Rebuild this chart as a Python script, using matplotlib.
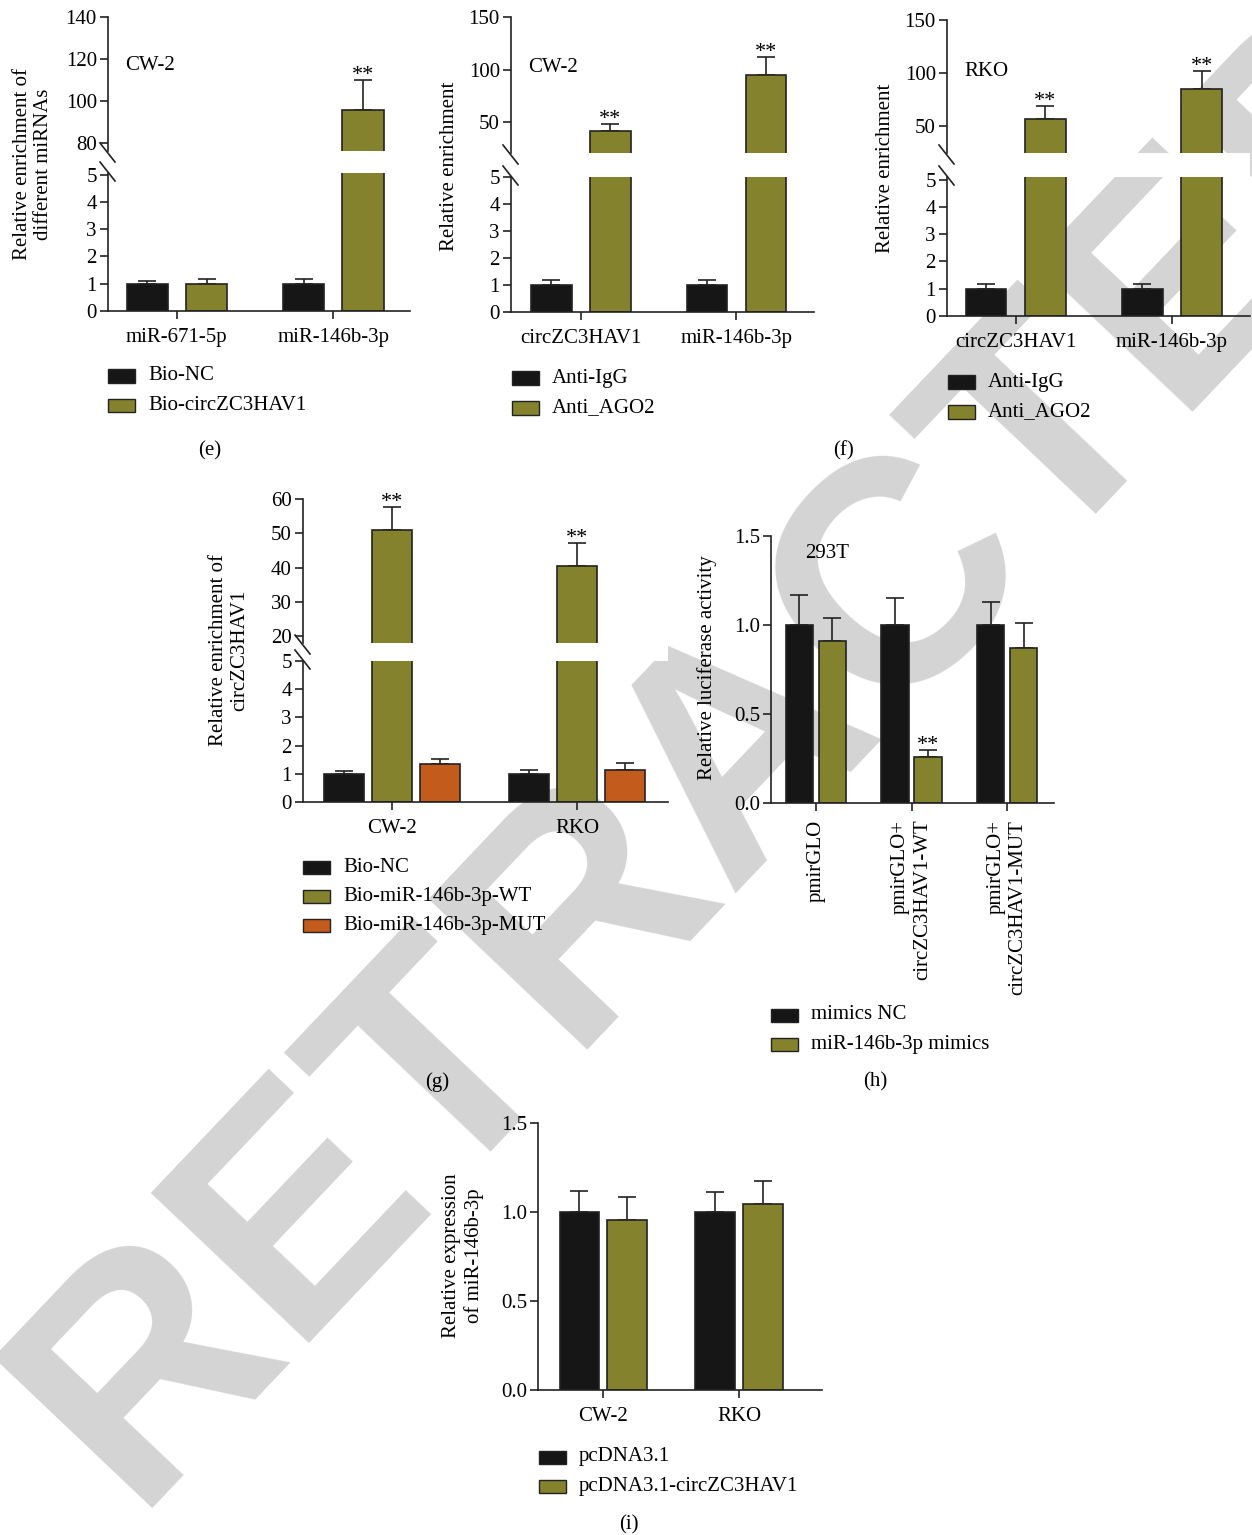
import numpy as np
import matplotlib
matplotlib.use("Agg")
from matplotlib import pyplot as plt
from matplotlib.patches import Rectangle
from matplotlib.lines import Line2D

plt.rcParams['font.family'] = ['Liberation Serif', 'DejaVu Serif']
plt.rcParams['font.size'] = 15

# ---- data ----
# (e) CW-2 RNA pull-down
e_groups = ["miR-671-5p", "miR-146b-3p"]
e_nc = [1.0, 1.0]
e_nc_err = [0.10, 0.17]
e_circ = [0.98, 95.7]
e_circ_err = [0.18, 14.3]

# (f) RIP with AGO2, CW-2 and RKO
f_groups = ["circZC3HAV1", "miR-146b-3p"]
f_cw_igg = [1.0, 1.0]
f_cw_igg_err = [0.18, 0.18]
f_cw_ago = [41.5, 95.2]
f_cw_ago_err = [7.0, 16.5]
f_rko_igg = [1.0, 1.0]
f_rko_igg_err = [0.17, 0.17]
f_rko_ago = [56.6, 85.0]
f_rko_ago_err = [12.3, 16.6]

# (g) miR-146b-3p pull-down
g_groups = ["CW-2", "RKO"]
g_nc = [1.0, 1.0]
g_nc_err = [0.11, 0.14]
g_wt = [51.0, 40.3]
g_wt_err = [6.7, 6.9]
g_mut = [1.33, 1.13]
g_mut_err = [0.21, 0.25]

# (h) luciferase reporter, 293T
h_groups = ["pmirGLO", "pmirGLO+\ncircZC3HAV1-WT", "pmirGLO+\ncircZC3HAV1-MUT"]
h_nc = [1.0, 1.0, 1.0]
h_nc_err = [0.17, 0.15, 0.13]
h_mim = [0.91, 0.26, 0.87]
h_mim_err = [0.13, 0.04, 0.14]

# (i) miR-146b-3p expression
i_groups = ["CW-2", "RKO"]
i_pc = [1.0, 1.0]
i_pc_err = [0.12, 0.11]
i_circ = [0.955, 1.045]
i_circ_err = [0.13, 0.13]

BLACK = '#161616'
OLIVE = '#84822c'
ORANGE = '#c25b1b'
EDGE = '#222222'

W, H = 1252, 1535
fig = plt.figure(figsize=(W / 100, H / 100), dpi=100)


def px_box(x0, y0, x1, y1):
    return [x0 / W, 1 - y1 / H, (x1 - x0) / W, (y1 - y0) / H]


def fx(x):
    return x / W


def fy(y):
    return 1 - y / H


# big watermark behind everything
fig.text(fx(132), fy(1508), "RETRACTED", rotation=46.5, rotation_mode='anchor',
         ha='left', va='baseline', fontsize=228, fontweight='bold',
         family='Liberation Sans', color='#d4d4d4', zorder=-5)


def style(ax):
    for s in ['top', 'right']:
        ax.spines[s].set_visible(False)
    for s in ['left', 'bottom']:
        ax.spines[s].set_linewidth(1.2)
        ax.spines[s].set_color(EDGE)
    ax.tick_params(direction='out', length=6, width=1.2, labelsize=15, color=EDGE)
    ax.tick_params(axis='y', pad=2)
    ax.tick_params(axis='x', pad=6)
    ax.set_facecolor('none')


def draw_bars(ax, series, colors, offsets, width):
    for (vals, errs), c, off in zip(series, colors, offsets):
        x = np.arange(len(vals)) + off
        ax.bar(x, vals, width, color=c, edgecolor=EDGE, linewidth=1.2, zorder=2)
        ax.errorbar(x, vals, yerr=[np.zeros(len(vals)), errs], fmt='none', ecolor=EDGE,
                    elinewidth=1.2, capsize=6.5, capthick=1.2, zorder=1)


def add_stars(ax, series, offsets, stars):
    for si, gi in stars:
        vals, errs = series[si]
        ax.annotate("**", (gi + offsets[si], vals[gi] + errs[gi]), xytext=(0, 0),
                    textcoords='offset points', ha='center', va='baseline', fontsize=16)


def broken_panel(x0, x1, y_top, y_cut, y_low, y_zero, up_lim, up_ticks, low_lim, low_ticks,
                 xlim, groups, series, colors, offsets, width, stars):
    ax_up = fig.add_axes(px_box(x0, y_top, x1, y_cut))
    ax_lo = fig.add_axes(px_box(x0, y_low, x1, y_zero))
    for ax in (ax_up, ax_lo):
        draw_bars(ax, series, colors, offsets, width)
        style(ax)
        ax.set_xlim(xlim)
    ax_up.set_ylim(up_lim)
    ax_up.set_yticks(up_ticks)
    ax_up.spines['bottom'].set_visible(False)
    ax_up.tick_params(axis='x', bottom=False, labelbottom=False)
    ax_lo.set_ylim(low_lim)
    ax_lo.set_yticks(low_ticks)
    ax_lo.set_xticks(range(len(groups)))
    ax_lo.set_xticklabels(groups)
    add_stars(ax_up, series, offsets, stars)
    # white gap across the break
    fig.patches.append(Rectangle((fx(x0), fy(y_low)), (x1 - x0) / W, (y_low - y_cut) / H,
                                 transform=fig.transFigure, facecolor='white',
                                 edgecolor='none', zorder=-4))
    for yy in (y_cut + 1, y_low - 2):
        fig.add_artist(Line2D([fx(x0 - 8), fx(x0 + 7)], [fy(yy - 9), fy(yy + 10)],
                              color=EDGE, linewidth=1.2))
    return ax_up, ax_lo


def single_panel(x0, x1, y_top, y_zero, ylim, yticks, xlim, groups, series, colors,
                 offsets, width, stars):
    ax = fig.add_axes(px_box(x0, y_top, x1, y_zero))
    draw_bars(ax, series, colors, offsets, width)
    style(ax)
    ax.set_xlim(xlim)
    ax.set_ylim(ylim)
    ax.set_yticks(yticks)
    ax.set_yticklabels([f"{t:.1f}" for t in yticks])
    ax.set_xticks(range(len(groups)))
    add_stars(ax, series, offsets, stars)
    return ax


def legend(x_patch, ys, labels, colors):
    for y, lab, c in zip(ys, labels, colors):
        fig.patches.append(Rectangle((fx(x_patch), fy(y + 6.5)), 27 / W, 13 / H,
                                     transform=fig.transFigure, facecolor=c,
                                     edgecolor=EDGE, linewidth=1.0))
        fig.text(fx(x_patch + 40), fy(y), lab, ha='left', va='center', fontsize=15)


def ylabel(x, y, text):
    fig.text(fx(x), fy(y), text, rotation=90, ha='center', va='center',
             multialignment='center', linespacing=1.2, fontsize=15)


# ---- (e) ----
broken_panel(108, 410, 17, 151, 173, 311, (76.2, 140), [80, 100, 120, 140],
             (0, 5.06), [0, 1, 2, 3, 4, 5], (-0.44, 1.49), e_groups,
             [(e_nc, e_nc_err), (e_circ, e_circ_err)], [BLACK, OLIVE],
             [-0.19, 0.19], 0.263, [(1, 1)])
ylabel(33, 164, "Relative enrichment of\ndifferent miRNAs")
fig.text(fx(125), fy(66), "CW-2", ha='left', va='center', fontsize=15)
legend(108, [376, 405], ["Bio-NC", "Bio-circZC3HAV1"], [BLACK, OLIVE])
fig.text(fx(210), fy(451), "(e)", ha='center', va='center', fontsize=15)

# ---- (f) left, CW-2 ----
broken_panel(511, 814, 17, 153, 177, 312, (20.5, 150), [50, 100, 150],
             (0, 5.0), [0, 1, 2, 3, 4, 5], (-0.45, 1.50), f_groups,
             [(f_cw_igg, f_cw_igg_err), (f_cw_ago, f_cw_ago_err)], [BLACK, OLIVE],
             [-0.19, 0.19], 0.26, [(1, 0), (1, 1)])
ylabel(449, 166, "Relative enrichment")
fig.text(fx(528), fy(68), "CW-2", ha='left', va='center', fontsize=15)
legend(512, [378, 408], ["Anti-IgG", "Anti_AGO2"], [BLACK, OLIVE])

# ---- (f) right, RKO ----
broken_panel(947, 1250, 20, 153, 177, 316, (24.5, 150), [50, 100, 150],
             (0, 5.1), [0, 1, 2, 3, 4, 5], (-0.44, 1.50), f_groups,
             [(f_rko_igg, f_rko_igg_err), (f_rko_ago, f_rko_ago_err)], [BLACK, OLIVE],
             [-0.19, 0.19], 0.26, [(1, 0), (1, 1)])
ylabel(885, 168, "Relative enrichment")
fig.text(fx(964), fy(71), "RKO", ha='left', va='center', fontsize=15)
legend(948, [382, 412], ["Anti-IgG", "Anti_AGO2"], [BLACK, OLIVE])
fig.text(fx(843), fy(451), "(f)", ha='center', va='center', fontsize=15)

# ---- (g) ----
broken_panel(303, 668, 499, 643, 661, 802, (17.96, 60), [20, 30, 40, 50, 60],
             (0, 4.99), [0, 1, 2, 3, 4, 5], (-0.48, 1.49), g_groups,
             [(g_nc, g_nc_err), (g_wt, g_wt_err), (g_mut, g_mut_err)],
             [BLACK, OLIVE, ORANGE], [-0.26, 0.0, 0.26], 0.216, [(1, 0), (1, 1)])
ylabel(229, 650, "Relative enrichment of\ncircZC3HAV1")
legend(303, [867, 896, 925], ["Bio-NC", "Bio-miR-146b-3p-WT", "Bio-miR-146b-3p-MUT"],
       [BLACK, OLIVE, ORANGE])
fig.text(fx(437), fy(1082), "(g)", ha='center', va='center', fontsize=15)

# ---- (h) ----
ax_h = single_panel(771, 1054, 536, 803, (0, 1.5), [0.0, 0.5, 1.0, 1.5], (-0.47, 2.49),
                    h_groups, [(h_nc, h_nc_err), (h_mim, h_mim_err)], [BLACK, OLIVE],
                    [-0.173, 0.173], 0.285, [(1, 1)])
ax_h.set_xticklabels(h_groups, rotation=90, ha='center', va='top', multialignment='right')
ylabel(707, 668, "Relative luciferase activity")
fig.text(fx(805), fy(553), "293T", ha='left', va='center', fontsize=15)
legend(771, [1015, 1044], ["mimics NC", "miR-146b-3p mimics"], [BLACK, OLIVE])
fig.text(fx(875), fy(1082), "(h)", ha='center', va='center', fontsize=15)

# ---- (i) ----
ax_i = single_panel(538, 822, 1123, 1390, (0, 1.5), [0.0, 0.5, 1.0, 1.5], (-0.48, 1.61),
                    i_groups, [(i_pc, i_pc_err), (i_circ, i_circ_err)], [BLACK, OLIVE],
                    [-0.176, 0.176], 0.29, [])
ax_i.set_xticklabels(i_groups)
ylabel(463, 1256, "Relative expression\nof miR-146b-3p")
legend(539, [1457, 1486], ["pcDNA3.1", "pcDNA3.1-circZC3HAV1"], [BLACK, OLIVE])
fig.text(fx(629), fy(1525), "(i)", ha='center', va='center', fontsize=15)

fig.savefig("out.png", dpi=100, facecolor='white')
